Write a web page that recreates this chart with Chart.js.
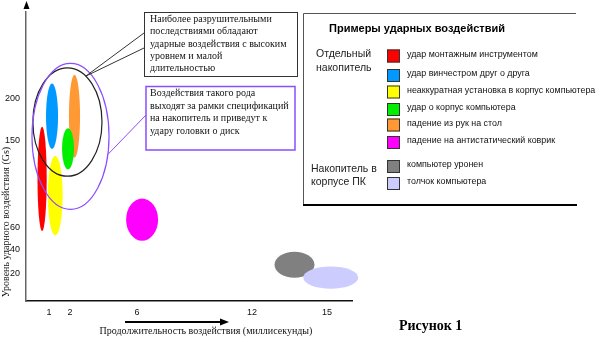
<!DOCTYPE html>
<html>
<head>
<meta charset="utf-8">
<script src="https://cdn.jsdelivr.net/npm/chart.js@4"></script>
<style>
  html, body { margin: 0; padding: 0; background: #fff; }
  canvas { display: block; }
</style>
</head>
<body>
<canvas id="shock" width="600" height="342"></canvas>
<script>
// impact types: duration range (ms) and shock level range (Gs)
const impactLabels = [
  "удар монтажным инструментом",
  "удар винчестром друг о друга",
  "неаккуратная установка в корпус компьютера",
  "удар о корпус компьютера",
  "падение из рук на стол",
  "падение на антистатический коврик",
  "компьютер уронен",
  "толчок компьютера"
]
const durMin = [0.5, 0.87, 0.95, 1.62, 1.95, 5.35, 12.9, 14.05]
const durMax = [0.9, 1.43, 1.65, 2.24, 2.6, 7.1, 14.5, 16.25]
const gMin = [57, 141, 53, 120, 132, 48, 17, 9]
const gMax = [166, 217, 134, 164, 227, 90, 38, 26]

// the two outlined regions (black = most damaging, purple = out of spec)
const zoneDurMin = [0.3, 0.26]
const zoneDurMax = [3.91, 4.33]
const zoneGMin = [113, 79]
const zoneGMax = [235, 240]

const xTicks = [1, 2, 6, 12, 15]
const yTicks = [20, 40, 60, 150, 200]

const groupLabels = [["Отдельный", "накопитель"], ["Накопитель в", "корпусе ПК"]]
const legendTitle = "Примеры ударных воздействий"
const noteTop = ["Наиболее разрушительными", "последствиями обладают", "ударные воздействия с высоким", "уровнем и малой", "длительностью"]
const noteSpec = ["Воздействия такого рода", "выходят за рамки спецификаций", "на накопитель и приведут к", "удару головки о диск"]
const xTitle = "Продолжительность воздействия (миллисекунды)"
const yTitle = "Уровень ударного воздействия (Gs)"
const caption = "Рисунок 1"


const COLORS = ["#ff0000", "#0099ff", "#ffff00", "#00ee00", "#ff9933", "#ff00ff", "#808080", "#ccccff"]
const DRAW_ORDER = [0, 1, 2, 4, 3, 5, 6, 7]


// the original axes are hand drawn: tick spacing is not uniform,
// so both axes are piecewise linear between these knots
const KNOTS = {
  x: { v: [0, 1, 2, 6, 12, 15, 16], f: [0, 23, 44, 111, 226, 301, 326].map(p => p / 326) },
  y: { v: [0, 20, 40, 60, 150, 200, 300], f: [0, 28, 53, 75, 165, 208, 297].map(p => p / 297) }
}

function interp(xs, ys, v) {
  let i = 1
  while (i < xs.length - 1 && v > xs[i]) i++
  const t = (v - xs[i - 1]) / (xs[i] - xs[i - 1])
  return ys[i - 1] + t * (ys[i] - ys[i - 1])
}

class PiecewiseScale extends Chart.LinearScale {
  static id = "piecewise"
  static defaults = {}
  buildTicks() {
    return (this.id === "x" ? xTicks : yTicks).map(v => ({ value: v }))
  }
  getPixelForValue(value) {
    const k = KNOTS[this.id]
    return this.getPixelForDecimal(interp(k.v, k.f, value))
  }
  getValueForPixel(pixel) {
    const k = KNOTS[this.id]
    const d = this.isHorizontal()
      ? (pixel - this.left) / this.width
      : (this.bottom - pixel) / this.height
    return interp(k.f, k.v, d)
  }
}
Chart.register(PiecewiseScale)


function boxOf(meta) {
  const a = meta.data[0], b = meta.data[1]
  return {
    cx: (a.x + b.x) / 2, cy: (a.y + b.y) / 2,
    rx: Math.abs(b.x - a.x) / 2, ry: Math.abs(b.y - a.y) / 2
  }
}

const shapes = {
  id: "shapes",
  afterDatasetsDraw(chart) {
    const ctx = chart.ctx
    ctx.save()

    // filled regions
    DRAW_ORDER.forEach(i => {
      const e = boxOf(chart.getDatasetMeta(i))
      ctx.beginPath()
      ctx.ellipse(e.cx, e.cy, e.rx, e.ry, 0, 0, Math.PI * 2)
      ctx.fillStyle = COLORS[i]
      ctx.fill()
    })

    // outlined zones
    const zones = [8, 9].map(i => boxOf(chart.getDatasetMeta(i)))
    const zoneColors = ["#222", "#8a4dff"]
    zones.forEach((e, i) => {
      ctx.beginPath()
      ctx.ellipse(e.cx, e.cy, e.rx, e.ry, 0, 0, Math.PI * 2)
      ctx.strokeStyle = zoneColors[i]
      ctx.lineWidth = 1.2
      ctx.stroke()
    })

    // callout 1
    const t1 = zones[0]
    const tip1 = [t1.cx + t1.rx * Math.cos(-1.01), t1.cy + t1.ry * Math.sin(-1.01)]
    ctx.strokeStyle = "#333"
    ctx.lineWidth = 1
    ctx.beginPath()
    ctx.moveTo(144, 33); ctx.lineTo(tip1[0], tip1[1]); ctx.lineTo(144, 48)
    ctx.stroke()
    ctx.fillStyle = "#fff"
    ctx.fillRect(144, 12, 153, 64)
    ctx.strokeRect(144.5, 12.5, 153, 64)

    // callout 2
    const t2 = zones[1]
    const tip2 = [t2.cx + t2.rx * Math.cos(0.25), t2.cy + t2.ry * Math.sin(0.25)]
    ctx.strokeStyle = "#8a4dff"
    ctx.beginPath()
    ctx.moveTo(146, 115); ctx.lineTo(tip2[0], tip2[1])
    ctx.stroke()
    ctx.fillRect(146, 86, 149, 64)
    ctx.lineWidth = 1.5
    ctx.strokeRect(146, 86.5, 149, 63.5)

    ctx.fillStyle = "#111"
    ctx.font = "10px 'Liberation Serif'"
    ctx.textBaseline = "middle"
    ctx.textAlign = "left"
    noteTop.forEach((s, i) => ctx.fillText(s, 150, 19.5 + i * 12.2))
    noteSpec.forEach((s, i) => ctx.fillText(s, 150, 93.5 + i * 12.5))

    // axis arrows
    ctx.fillStyle = "#000"
    ctx.beginPath()
    ctx.moveTo(26.5, 1); ctx.lineTo(29.5, 9); ctx.lineTo(23.5, 9); ctx.closePath()
    ctx.fill()
    ctx.strokeStyle = "#000"
    ctx.lineWidth = 2
    ctx.beginPath()
    ctx.moveTo(125, 322); ctx.lineTo(221, 322)
    ctx.stroke()
    ctx.beginPath()
    ctx.moveTo(220, 318.5); ctx.lineTo(229, 322); ctx.lineTo(220, 325.5); ctx.closePath()
    ctx.fill()

    // axis titles
    ctx.fillStyle = "#111"
    ctx.font = "10px 'Liberation Serif'"
    ctx.textAlign = "center"
    ctx.fillText(xTitle, 206, 331)
    ctx.save()
    ctx.translate(6, 222)
    ctx.rotate(-Math.PI / 2)
    ctx.fillText(yTitle, 0, 0)
    ctx.restore()

    // legend panel
    ctx.strokeStyle = "#555"
    ctx.lineWidth = 1
    ctx.beginPath()
    ctx.moveTo(576, 13.5); ctx.lineTo(303.5, 13.5); ctx.lineTo(303.5, 205)
    ctx.stroke()
    ctx.strokeStyle = "#000"
    ctx.lineWidth = 2
    ctx.beginPath()
    ctx.moveTo(303, 205); ctx.lineTo(577, 205)
    ctx.stroke()

    ctx.textAlign = "left"
    ctx.fillStyle = "#000"
    ctx.font = "bold 11px 'Liberation Sans'"
    ctx.fillText(legendTitle, 329, 29)

    ctx.fillStyle = "#222"
    ctx.font = "10.5px 'Liberation Sans'"
    ctx.fillText(groupLabels[0][0], 316, 54)
    ctx.fillText(groupLabels[0][1], 316, 68)
    ctx.fillText(groupLabels[1][0], 311, 169)
    ctx.fillText(groupLabels[1][1], 311, 182)

    const rowY = [56, 75.5, 92, 109.5, 125, 142.5, 166.5, 183.5]
    ctx.font = "8.9px 'Liberation Sans'"
    impactLabels.forEach((s, i) => {
      ctx.fillStyle = COLORS[i]
      ctx.fillRect(387, rowY[i] - 6.5, 13, 13)
      ctx.strokeStyle = "#333"
      ctx.lineWidth = 1
      ctx.strokeRect(387.5, rowY[i] - 6, 12, 12)
      ctx.fillStyle = "#111"
      ctx.fillText(s, 407, rowY[i] - 1.5)
    })

    // caption
    ctx.fillStyle = "#000"
    ctx.font = "bold 14px 'Liberation Serif'"
    ctx.fillText(caption, 399, 326)

    ctx.restore()
  }
}


const datasets = impactLabels.map((label, i) => ({
  label,
  data: [{ x: durMin[i], y: gMin[i] }, { x: durMax[i], y: gMax[i] }],
  pointRadius: 0,
  backgroundColor: COLORS[i]
}))

zoneDurMin.forEach((d, i) => {
  datasets.push({
    label: "zone " + (i + 1),
    data: [{ x: d, y: zoneGMin[i] }, { x: zoneDurMax[i], y: zoneGMax[i] }],
    pointRadius: 0
  })
})


new Chart(document.getElementById("shock"), {
  type: "scatter",
  data: { datasets },
  options: {
    responsive: false,
    animation: false,
    devicePixelRatio: 1,
    layout: { padding: { left: 0, right: 248, top: 4, bottom: 0 } },
    plugins: {
      legend: { display: false },
      tooltip: { enabled: false }
    },
    scales: {
      x: {
        type: "piecewise",
        min: 0,
        max: 16,
        afterFit: s => { s.height = 41 },
        grid: { display: false, drawTicks: false },
        border: { display: true, color: "#111", width: 1.5 },
        ticks: {
          padding: 6,
          color: "#111",
          font: { family: "'Liberation Sans'", size: 9 }
        }
      },
      y: {
        type: "piecewise",
        min: 0,
        max: 300,
        afterFit: s => { s.width = 26 },
        grid: { display: false, drawTicks: false },
        border: { display: true, color: "#666", width: 1.5 },
        ticks: {
          padding: 6,
          color: "#111",
          font: { family: "'Liberation Sans'", size: 9 }
        }
      }
    }
  },
  plugins: [shapes]
})
</script>
</body>
</html>
